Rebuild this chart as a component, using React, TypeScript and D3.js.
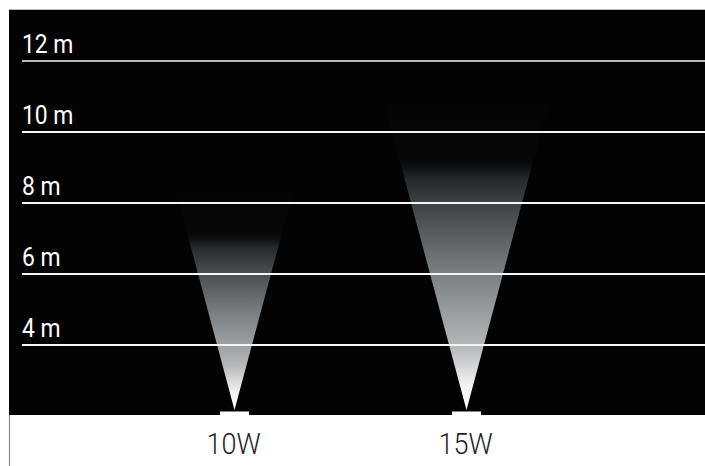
import React from "react";
import * as d3 from "d3";

const W = 705;
const H = 466;

// Data
const lamps = ["10W", "15W"];
const beamReach = [8.3, 10.85]; // metres where the beam fades out
const beamAngle = [30, 30]; // degrees (full angle)
const heightTicks = [4, 6, 8, 10, 12];
const tickLabels = ["4 m", "6 m", "8 m", "10 m", "12 m"];

const FONT = "Roboto, 'Liberation Sans', sans-serif";

export default function App() {
  const left = 9;
  const top = 10;
  const bottom = 415;
  const apexY = 410;

  const y = d3.scaleLinear().domain([4, 12]).range([345, 61]);
  const x = d3.scalePoint<string>().domain(lamps).range([234.5, 466.5]);

  const stops: [number, string][] = [
    [0, "#ffffff"],
    [0.08, "#f2f2f2"],
    [0.21, "#b4b6b7"],
    [0.44, "#7c8083"],
    [0.67, "#3e4245"],
    [0.75, "#24282b"],
    [0.785, "#0e1113"],
    [0.81, "#070707"],
    [1, "#050404"],
  ];

  return (
    <svg
      width={W}
      height={H}
      style={{ position: "absolute", left: 0, top: 0, display: "block" }}
    >
      <defs>
        <linearGradient id="beamGrad" x1="0" y1="1" x2="0" y2="0">
          {stops.map(([o, c], i) => (
            <stop key={i} offset={o} stopColor={c} />
          ))}
        </linearGradient>
      </defs>
      <rect x={0} y={0} width={W} height={H} fill="#ffffff" />
      <rect x={left} y={top} width={W - left} height={bottom - top} fill="#040303" />
      <line x1={left} x2={W} y1={top - 0.5} y2={top - 0.5} stroke="#b8b8b8" strokeWidth={1} />
      <line x1={left + 0.5} x2={left + 0.5} y1={bottom} y2={H} stroke="#8a8a8a" strokeWidth={1.2} />

      {lamps.map((l, i) => {
        const cx = x(l)!;
        const ty = y(beamReach[i]);
        const half = Math.tan(((beamAngle[i] / 2) * Math.PI) / 180) * (apexY - ty);
        const path = d3.path();
        path.moveTo(cx, apexY);
        path.lineTo(cx - half, ty);
        path.lineTo(cx + half, ty);
        path.closePath();
        return <path key={l} d={path.toString()} fill="url(#beamGrad)" />;
      })}

      {heightTicks.map((t, i) => (
        <g key={t}>
          <line
            x1={22}
            x2={W}
            y1={y(t)}
            y2={y(t)}
            stroke="#f6f6f6"
            strokeWidth={2}
            opacity={t === 12 ? 0.75 : 1}
          />
          <text
            transform={`translate(22,${y(t) - 8.5}) scale(0.88,1)`}
            fill="#ffffff"
            fontFamily={FONT}
            fontSize={26}
          >
            {tickLabels[i]}
          </text>
        </g>
      ))}

      {lamps.map((l) => {
        const cx = x(l)!;
        return (
          <g key={l}>
            <rect x={cx - 14.5} y={411.5} width={29} height={3.5} fill="#ffffff" />
            <text
              transform={`translate(${cx - 1},454) scale(0.9,1)`}
              textAnchor="middle"
              fill="#1e1e1e"
              fontFamily={FONT}
              fontWeight={300}
              fontSize={30}
            >
              {l}
            </text>
          </g>
        );
      })}
    </svg>
  );
}
